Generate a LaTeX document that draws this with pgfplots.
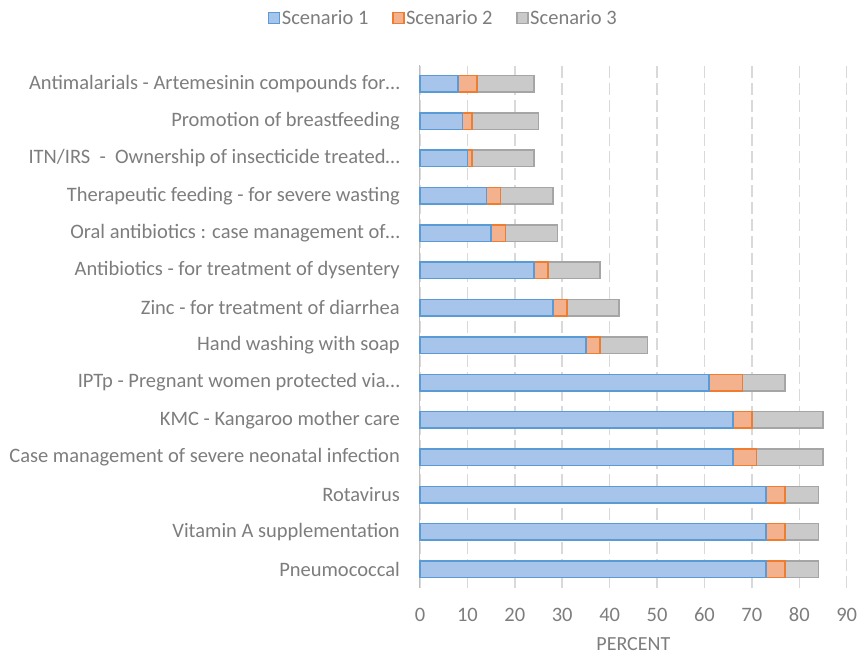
\documentclass[border=0pt]{standalone}
\usepackage{pgfplots}
\pgfplotsset{compat=1.18}
\usepackage{fontspec}
\setmainfont{Carlito}
\definecolor{txt}{RGB}{125,125,125}
\definecolor{b1f}{RGB}{167,197,235}
\definecolor{b1d}{RGB}{91,155,213}
\definecolor{b2f}{RGB}{244,177,141}
\definecolor{b2d}{RGB}{237,125,49}
\definecolor{b3f}{RGB}{202,202,202}
\definecolor{b3d}{RGB}{165,165,165}
\definecolor{gridc}{RGB}{217,217,217}
\begin{document}
\begin{tikzpicture}
\path[use as bounding box] (0pt,0pt) rectangle (862pt,656pt);
\begin{axis}[
  at={(420pt,68pt)}, anchor=south west,
  scale only axis, width=426.7pt, height=523pt,
  xbar stacked, bar width=16.5pt,
  every axis plot post/.append style={legend image code/.code={\draw[##1, line width=1.6pt] (0pt,-5.5pt) rectangle (11pt,5.5pt);}},
  xmin=0, xmax=90, ymin=-0.5, ymax=13.5,
  xtick={0,10,...,90},
  ytick={0,...,13},
  yticklabels={Pneumococcal, Vitamin A supplementation, Rotavirus, Case management of severe neonatal infection, KMC - Kangaroo mother care, IPTp - Pregnant women protected via…, Hand washing with soap, Zinc - for treatment of diarrhea, Antibiotics - for treatment of dysentery, Oral antibiotics : case management of…, Therapeutic feeding - for severe wasting, ITN/IRS\ \ -\ \ Ownership of insecticide treated…, Promotion of breastfeeding, Antimalarials - Artemesinin compounds for…},
  major tick length=0pt,
  axis line style={draw=none},
  axis x line*=bottom, axis y line*=left,
  xmajorgrids,
  grid style={gridc, line width=1.5pt, dash pattern=on 12pt off 5pt},
  /pgf/number format/assume math mode=true,
  tick label style={font=\fontsize{20.5}{24}\selectfont, text=txt},
  xticklabel style={inner sep=0pt, anchor=center, yshift=-27pt},
  yticklabel style={inner sep=0pt, anchor=east, xshift=-20pt},
  xlabel={PERCENT},
  xlabel style={font=\fontsize{20}{24}\selectfont, text=txt, inner sep=0pt, anchor=center, at={(0.5,0)}, yshift=-56pt},
  legend columns=3,
  legend style={draw=none, at={(0.054,1.0899)}, anchor=center, font=\fontsize{20.5}{24}\selectfont, text=txt, inner sep=0pt,
    /tikz/every even column/.append style={column sep=22pt},
    nodes={inner sep=1.5pt}},
  legend cell align=left,
  clip=false,
]
\addplot[fill=b1f, draw=b1d, line width=1.5pt] coordinates {(73,0) (73,1) (73,2) (66,3) (66,4) (61,5) (35,6) (28,7) (24,8) (15,9) (14,10) (10,11) (9,12) (8,13)};
\addplot[fill=b2f, draw=b2d, line width=1.5pt] coordinates {(4,0) (4,1) (4,2) (5,3) (4,4) (7,5) (3,6) (3,7) (3,8) (3,9) (3,10) (1,11) (2,12) (4,13)};
\addplot[fill=b3f, draw=b3d, line width=1.5pt] coordinates {(7,0) (7,1) (7,2) (14,3) (15,4) (9,5) (10,6) (11,7) (11,8) (11,9) (11,10) (13,11) (14,12) (12,13)};
\legend{Scenario 1, Scenario 2, Scenario 3}
\draw[color=black!25, line width=1pt] (axis cs:0,-0.5) -- (axis cs:0,13.5);
\end{axis}
\end{tikzpicture}
\end{document}
